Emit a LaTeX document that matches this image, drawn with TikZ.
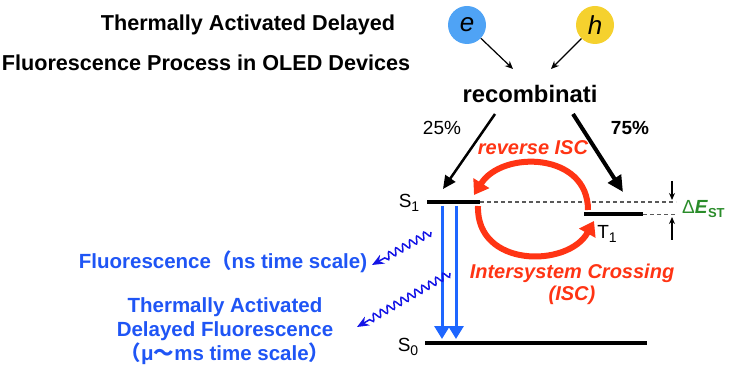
\documentclass[tikz,border=0pt]{standalone}
\usepackage{fontspec}
\setmainfont{Liberation Sans}
\newfontfamily\cjk{Noto Sans CJK SC}
\usetikzlibrary{arrows.meta,decorations.pathmorphing}
\definecolor{ebl}{HTML}{4FA3F5}
\definecolor{hyel}{HTML}{F5D12E}
\definecolor{isc}{HTML}{FF3414}
\definecolor{tblue}{HTML}{1F55F5}
\definecolor{vblue}{HTML}{1E66FF}
\definecolor{wblue}{HTML}{1414E6}
\definecolor{dgreen}{HTML}{2A8C2A}
\newcommand\lvsub[1]{\raisebox{-0.45ex}{\fontsize{14}{14}\selectfont #1}}
\tikzset{
  title/.style={font=\fontsize{21.6}{24}\selectfont\bfseries, inner sep=0pt},
  carrier/.style={circle, minimum size=38pt, inner sep=0pt, font=\fontsize{26}{26}\selectfont\itshape},
  feed/.style={-{Stealth[length=8pt,width=7pt]}, line width=1.2pt},
  level/.style={line width=4pt},
  lvlabel/.style={font=\fontsize{19}{19}\selectfont, inner sep=0pt},
  pct/.style={font=\fontsize{19}{19}\selectfont, inner sep=0pt},
  redtxt/.style={text=isc, font=\fontsize{20}{22}\selectfont\bfseries\itshape, inner sep=0pt, align=center},
  bluetxt/.style={text=tblue, font=\fontsize{20.5}{24}\selectfont\bfseries, inner sep=0pt, align=center},
  gap/.style={dash pattern=on 4pt off 3pt, draw=black!65, line width=1.4pt},
  emit/.style={vblue, line width=3pt, -{Triangle[length=13pt,width=15pt]}},
  wave/.style={wblue, line width=1.5pt, decorate,
    decoration={snake, amplitude=3.5pt, segment length=8pt, post length=13pt}},
  isca/.style={isc, line width=6pt, -{Triangle[length=14pt,width=18pt]}},
}
\begin{document}
\begin{tikzpicture}[x=1pt,y=-1pt]
\useasboundingbox (0,0) rectangle (736,379);
% title
\node[title] (t1) at (248,25) {Thermally Activated Delayed};
\node[title] (t2) at (206,63) {Fluorescence Process in OLED Devices};
% carriers
\node[carrier, fill=ebl] (e) at (467,25) {e};
\node[carrier, fill=hyel] (h) at (595,25) {h};
\node[inner sep=0pt, font=\fontsize{23.8}{24}\selectfont\bfseries] (rec) at (530,94) {recombinati};
\coordinate (ein) at (513,69);
\coordinate (hin) at (551,69);
\draw[feed] (e) -- (ein);
\draw[feed] (h) -- (hin);
% levels
\coordinate (s1a) at (427,202); \coordinate (s1b) at (480,202);
\coordinate (t1a) at (584,214.5); \coordinate (t1b) at (643,214.5);
\coordinate (s0a) at (425,343); \coordinate (s0b) at (647,343);
\coordinate (g1) at (676,202); \coordinate (g2) at (676,214.5);
\draw[gap] (s1b) -- (g1);
\draw[gap] (t1b) -- (g2);
\draw[level] (s1a) -- (s1b);
\draw[level] (t1a) -- (t1b);
\draw[level] (s0a) -- (s0b);
\node[lvlabel] (ls1) at (409,203) {S\lvsub{1}};
\node[lvlabel] (lt1) at (607,234) {T\lvsub{1}};
\node[lvlabel] (ls0) at (408,347) {S\lvsub{0}};
% Delta E_ST
\coordinate (da) at (672,181); \coordinate (db) at (672,200);
\coordinate (ua) at (672,240); \coordinate (ub) at (672,217);
\draw[-{Stealth[length=7pt,width=6pt]}, line width=1.2pt] (da) -- (db);
\draw[-{Stealth[length=7pt,width=6pt]}, line width=1.2pt] (ua) -- (ub);
\node[text=dgreen, inner sep=0pt, anchor=west] (dest) at (682,209) {\fontsize{19}{19}\selectfont Δ\textbf{\textit{E}}\raisebox{-0.4ex}{\fontsize{13}{13}\selectfont\bfseries ST}};
% recombination routes
\node[pct] (p25) at (442,128) {25\%};
\node[pct, font=\fontsize{19}{19}\selectfont\bfseries] (p75) at (630,128) {75\%};
\coordinate (r25a) at (495,114); \coordinate (r25b) at (443,189);
\coordinate (r75a) at (573,114); \coordinate (r75b) at (623,192);
\draw[line width=2.5pt, -{Triangle[length=13pt,width=12pt]}] (r25a) -- (r25b);
\draw[line width=4pt, -{Triangle[length=16pt,width=15pt]}] (r75a) -- (r75b);
% ISC arrows
\node[redtxt] (risc) at (533,148) {reverse ISC};
\coordinate (ua1) at (588,210); \coordinate (ua2) at (474,195);
\coordinate (la1) at (478,206); \coordinate (la2) at (594,221);
\draw[isca] (ua1) .. controls (588,152) and (502,150) .. (ua2);
\draw[isca] (la1) .. controls (476,268) and (568,268) .. (la2);
\node[redtxt] (isct) at (572,284) {Intersystem Crossing\\(ISC)};
% emission
\coordinate (f1a) at (442,206); \coordinate (f1b) at (442,339);
\coordinate (f2a) at (456,206); \coordinate (f2b) at (456,339);
\draw[emit] (f1a) -- (f1b);
\draw[emit] (f2a) -- (f2b);
\coordinate (w1a) at (431,232); \coordinate (w1b) at (372,265);
\coordinate (w2a) at (450,273); \coordinate (w2b) at (357,327);
\draw[wave, -{Stealth[length=12pt,width=10pt]}] (w1a) -- (w1b);
\draw[wave, -{Stealth[length=12pt,width=10pt]}] (w2a) -- (w2b);
\node[bluetxt] (fl) at (223,262) {Fluorescence{\cjk （}ns time scale)};
\node[bluetxt] (tadf) at (225,331) {Thermally Activated\\Delayed Fluorescence\\{\cjk （}μ{\cjk 〜}ms time scale{\cjk ）}};
\end{tikzpicture}
\end{document}
